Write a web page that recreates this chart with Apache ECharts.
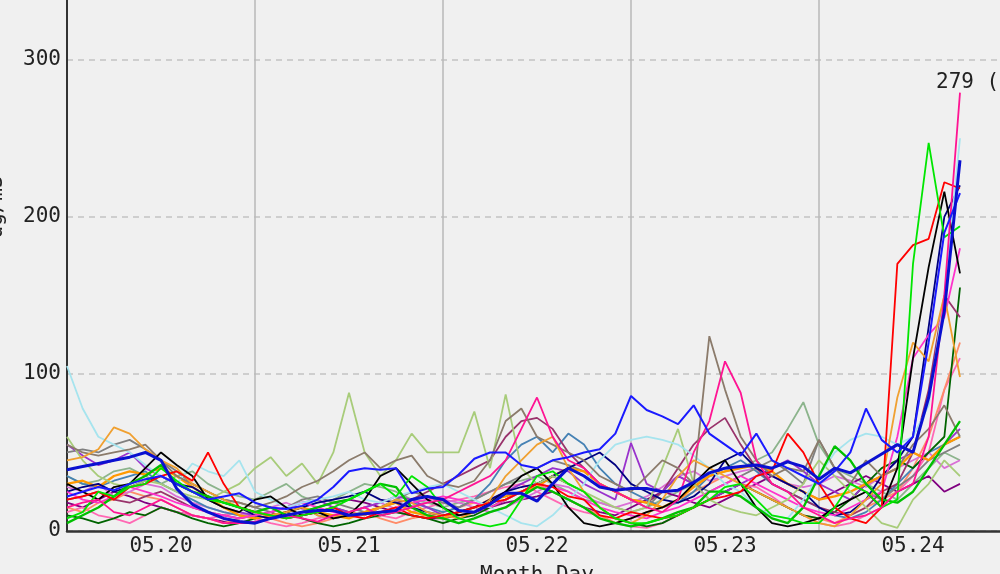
<!DOCTYPE html>
<html><head><meta charset="utf-8">
<script src="https://cdn.jsdelivr.net/npm/echarts@6/dist/echarts.min.js"></script>
<style>html,body{margin:0;padding:0;background:#f0f0f0;}#c{width:1000px;height:574px;}</style>
</head><body><div id="c"></div>
<script>
// time: hours relative to 05.20 00:00, sampled every 2 hours from 05.19 12:00
const startHour = -12;
const stepHours = 2;
const xTickLabels = ['05.20','05.21','05.22','05.23','05.24'];
const yAxisName = 'ug/m3';
const xAxisName = 'Month Day';

const sThickBlue = [39,41,43,45,47,50, 45,27,17,12,8,6, 5,8,10,12,13,13, 10,11,12,13,20,22, 20,13,12,17,24,24, 19,30,40,35,28,26, 27,27,25,26,31,37, 40,41,42,40,44,41, 33,40,37,43,49,55, 50,85,140,236];
const sBlue = [22,25,28,26,30,33, 35,30,25,20,22,24, 18,15,14,16,20,28, 38,40,39,40,24,27, 28,36,46,50,50,42, 40,45,47,50,52,62, 86,77,73,68,80,62, 55,48,62,45,40,35, 30,38,50,78,58,50, 60,120,190,215];
const sRed = [20,22,25,20,28,30, 35,38,32,50,30,15, 12,10,8,10,12,15, 10,8,12,15,10,8, 10,12,15,18,20,25, 30,28,22,20,10,8, 12,10,8,10,15,20, 22,25,35,38,62,50, 30,15,8,5,15,170, 182,186,222,218];
const sLime = [8,12,25,22,28,30, 40,32,25,20,18,15, 12,10,8,10,12,15, 20,25,30,22,35,28, 15,8,5,3,5,20, 35,38,30,25,15,8, 5,5,8,10,15,20, 28,30,20,10,8,5, 5,15,30,25,15,20, 170,247,187,194];
const sDeepPink = [15,18,20,12,10,15, 20,15,10,8,5,5, 6,8,10,8,6,10, 12,15,10,12,15,18, 20,25,30,35,45,65, 85,60,45,40,30,25, 20,15,12,20,50,70, 108,88,45,30,25,15, 10,5,8,10,15,25, 30,60,150,279];
const sBrown = [55,50,48,50,52,55, 45,35,30,25,20,18, 15,18,22,28,32,38, 45,50,40,45,48,35, 30,28,32,45,70,78, 60,55,50,45,35,30, 25,35,45,40,30,124, 90,60,45,35,40,38, 58,40,30,45,35,40, 55,65,80,60];
const sCyan = [105,78,60,55,50,42, 35,30,43,38,35,45, 25,20,15,18,20,22, 25,20,18,22,25,28, 30,25,20,15,10,5, 3,10,20,30,45,55, 58,60,58,55,48,40, 30,25,15,10,8,20, 35,50,58,62,60,55, 60,80,150,250];
const sOrange = [45,47,52,66,62,52, 45,40,30,25,20,15, 12,10,12,15,10,8, 12,10,15,20,18,12, 10,8,12,20,35,45, 55,60,40,25,15,8, 5,10,20,35,45,40, 35,30,25,20,15,10, 5,3,10,20,30,85, 120,108,150,98];
const sOlive = [60,45,35,30,28,32, 30,25,22,20,25,30, 40,47,35,43,30,50, 88,50,35,45,62,50, 50,50,76,40,87,40, 30,35,30,25,20,15, 12,15,40,65,30,20, 15,12,10,15,20,30, 45,35,25,15,5,2, 20,30,45,35];
const sSeaGreen = [35,30,32,38,40,35, 30,35,38,30,25,22, 20,25,30,22,18,20, 25,30,28,25,20,18, 15,18,20,25,30,32, 35,30,25,20,18,15, 12,15,20,25,30,35, 38,40,45,50,65,82, 55,40,35,30,25,20, 30,40,50,45];
const sBlack = [30,25,20,28,30,40, 50,42,35,20,15,12, 20,22,15,10,12,8, 10,20,35,40,30,20, 15,10,12,18,25,35, 40,30,15,5,3,5, 8,12,15,20,30,40, 45,30,15,5,3,5, 8,15,20,25,15,40, 110,168,216,164];
const sMagenta = [25,20,18,22,28,25, 22,18,15,12,10,8, 10,12,15,18,15,12, 10,8,12,15,18,20, 22,20,18,15,20,25, 30,28,25,20,15,12, 10,8,12,15,20,25, 30,35,30,25,20,15, 12,10,15,20,25,60, 110,125,136,180];
const sGreen = [5,10,15,22,30,35, 42,30,25,22,18,15, 12,15,10,12,15,18, 20,25,30,28,15,10, 8,5,8,12,15,22, 28,25,20,15,8,5, 3,5,8,12,15,25, 25,22,15,8,5,15, 35,54,45,30,20,18, 25,40,55,70];
const sNavy = [25,28,30,25,28,32, 35,30,28,22,18,15, 10,8,12,15,18,20, 22,25,20,18,15,12, 10,12,15,20,25,28, 30,35,40,45,50,42, 30,25,20,18,22,30, 45,50,40,35,30,25, 15,10,12,20,35,45, 60,130,200,220];
const sGrey = [50,52,50,55,58,52, 45,38,30,25,20,18, 15,12,15,20,22,18, 15,12,15,20,25,22, 18,15,20,25,30,35, 40,45,42,38,30,25, 20,15,25,35,30,25, 30,35,40,45,38,30, 58,40,30,25,20,28, 35,45,50,55];
const sDarkGreen = [10,8,5,8,12,10, 15,12,8,5,3,5, 8,10,12,8,5,3, 5,8,10,12,10,8, 5,8,10,15,20,25, 30,35,30,25,15,8, 5,3,5,10,15,20, 25,30,25,20,15,10, 8,12,20,30,40,45, 40,50,60,155];
const sSteel = [35,30,28,32,35,38, 30,25,20,15,12,10, 8,10,12,15,10,8, 10,12,15,20,18,15, 12,15,20,30,45,55, 60,50,62,55,40,30, 25,20,15,18,25,35, 40,45,38,30,25,20, 15,10,8,12,20,30, 40,50,55,60];
const sMaroon = [20,22,25,20,18,22, 25,20,15,12,10,8, 10,12,8,10,12,15, 12,10,15,18,20,25, 30,35,40,45,60,70, 72,65,50,40,30,25, 20,18,25,40,55,65, 72,55,40,30,25,20, 15,12,10,15,25,30, 50,90,150,136];
const sSalmon = [15,12,18,20,25,22, 20,15,10,8,5,8, 10,8,5,3,5,8, 10,12,8,5,8,10, 12,15,18,15,20,25, 30,25,20,15,10,5, 8,12,15,20,25,30, 35,30,25,20,15,10, 8,5,10,15,20,25, 40,60,90,120];
const sOrchid = [28,25,30,22,25,30, 28,22,18,15,12,10, 12,15,18,14,12,10, 12,15,18,14,16,18, 20,18,15,12,15,20, 25,30,28,22,18,15, 18,22,28,35,38,32, 35,38,40,35,30,28, 30,35,32,28,35,40, 45,50,40,45];
const sDarkOrange = [30,32,28,35,38,36, 40,35,28,22,15,10, 8,10,12,15,12,10, 8,12,15,18,12,10, 8,12,15,20,22,25, 28,35,40,38,30,25, 20,18,15,20,28,35, 38,40,42,38,30,25, 20,22,25,30,35,40, 50,45,55,60];
const sPurple = [55,48,42,45,50,40, 35,30,25,20,15,12, 10,12,15,18,20,15, 12,15,18,22,20,15, 10,12,15,20,25,30, 35,40,38,30,25,20, 56,30,25,35,30,20, 25,30,35,40,45,38, 30,25,20,30,35,45, 50,45,55,65];
const sHotPink = [12,15,10,8,5,10, 15,12,10,8,10,12, 8,5,3,5,8,10, 12,15,10,8,12,15, 18,20,22,25,28,30, 25,20,15,12,10,5, 3,2,5,10,15,20, 25,30,28,22,15,10, 5,3,5,10,15,25, 35,50,90,110];
const sDarkPurple = [18,15,20,25,22,18, 15,12,10,8,6,5, 5,8,10,12,15,18, 20,18,15,12,10,8, 8,10,12,15,18,20, 22,25,20,15,12,10, 15,20,25,22,18,15, 20,25,30,35,30,25, 20,25,30,35,30,25, 30,35,25,30];

const lineDefs = [
  {name:'s1',  values:sSeaGreen,   color:'#8cb48c', width:1.8},
  {name:'s2',  values:sDarkPurple, color:'#800080', width:1.8},
  {name:'s3',  values:sHotPink,    color:'#ff69b4', width:1.8},
  {name:'s4',  values:sSalmon,     color:'#ff8c69', width:1.8},
  {name:'s5',  values:sOrchid,     color:'#da70d6', width:1.8},
  {name:'s6',  values:sSteel,      color:'#4682b4', width:1.8},
  {name:'s7',  values:sGrey,       color:'#808080', width:1.8},
  {name:'s8',  values:sDarkGreen,  color:'#006400', width:1.8},
  {name:'s9',  values:sMaroon,     color:'#99336b', width:1.8},
  {name:'s10', values:sPurple,     color:'#9932cc', width:1.8},
  {name:'s11', values:sDarkOrange, color:'#ff9900', width:2.3},
  {name:'s12', values:sNavy,       color:'#000080', width:1.8},
  {name:'s13', values:sMagenta,    color:'#ff33cc', width:1.8},
  {name:'s14', values:sOlive,      color:'#a8cc7a', width:1.8},
  {name:'s15', values:sCyan,       color:'#a6e4ee', width:1.8},
  {name:'s16', values:sBrown,      color:'#8b7b6b', width:1.8},
  {name:'s17', values:sOrange,     color:'#f0a030', width:1.8},
  {name:'s18', values:sBlack,      color:'#000000', width:1.8},
  {name:'s19', values:sGreen,      color:'#00c000', width:2.3},
  {name:'s20', values:sRed,        color:'#ff0000', width:1.8},
  {name:'s21', values:sLime,       color:'#00e600', width:1.8},
  {name:'s22', values:sDeepPink,   color:'#ff1493', width:1.8},
  {name:'s23', values:sBlue,       color:'#1a1aff', width:2},
  {name:'s24', values:sThickBlue,  color:'#0a10d0', width:3}
];

const FONT = 'DejaVu Sans Mono';
const series = lineDefs.map(d => {
  const s = {
    type:'line', name:d.name, xAxisIndex:0, yAxisIndex:0,
    data: d.values.map((v,i) => [startHour + i*stepHours, v]),
    showSymbol:false, symbol:'none', silent:true, animation:false,
    lineStyle:{color:d.color, width:d.width}, itemStyle:{color:d.color}
  };
  if (d.values === sDeepPink) {
    s.markPoint = {
      symbol:'circle', symbolSize:0, animation:false,
      data:[{type:'max'}],
      label:{show:true, position:[-24,-21], align:'left', verticalAlign:'top',
        formatter: p => p.value + ' (max)', fontFamily:FONT, fontSize:21, color:'#222'}
    };
  }
  return s;
});

const chart = echarts.init(document.getElementById('c'), null, {renderer:'canvas'});
chart.setOption({
  backgroundColor:'#f0f0f0',
  animation:false,
  grid:{left:67, top:0, width:940, height:531, containLabel:false, outerBoundsMode:'none'},
  xAxis:[
    {type:'value', position:'top', min:-12, max:108, interval:24,
     axisLine:{show:false}, axisTick:{show:false}, axisLabel:{show:false},
     splitLine:{show:true, lineStyle:{color:'#b8b8b8', width:1.5}}},
    {type:'value', position:'bottom', min:-12, max:108, interval:12,
     axisLine:{show:true, onZero:false, lineStyle:{color:'#333', width:2.5}},
     axisTick:{show:false}, splitLine:{show:false},
     axisLabel:{fontFamily:FONT, fontSize:21, color:'#222', margin:5,
       formatter: v => (v >= 0 && v % 24 === 0 && xTickLabels[v/24]) ? xTickLabels[v/24] : ''},
     name:xAxisName, nameLocation:'middle', nameGap:34,
     nameTextStyle:{fontFamily:FONT, fontSize:21, color:'#222'}}
  ],
  yAxis:{type:'value', min:0, max:338, interval:100,
    axisLine:{show:true, onZero:false, lineStyle:{color:'#333', width:2}},
    axisTick:{show:false},
    axisLabel:{fontFamily:FONT, fontSize:21, color:'#222', margin:6, showMaxLabel:false},
    splitLine:{show:true, showMaxLine:false, lineStyle:{color:'#c2c2c2', width:1.5, type:[6,5]}}},
  graphic:[{type:'text', x:-3, y:207, rotation:Math.PI/2,
    style:{text:yAxisName, font:'21px "DejaVu Sans Mono"', fill:'#222', textAlign:'center', textVerticalAlign:'middle'}}],
  series: series
});
</script></body></html>
